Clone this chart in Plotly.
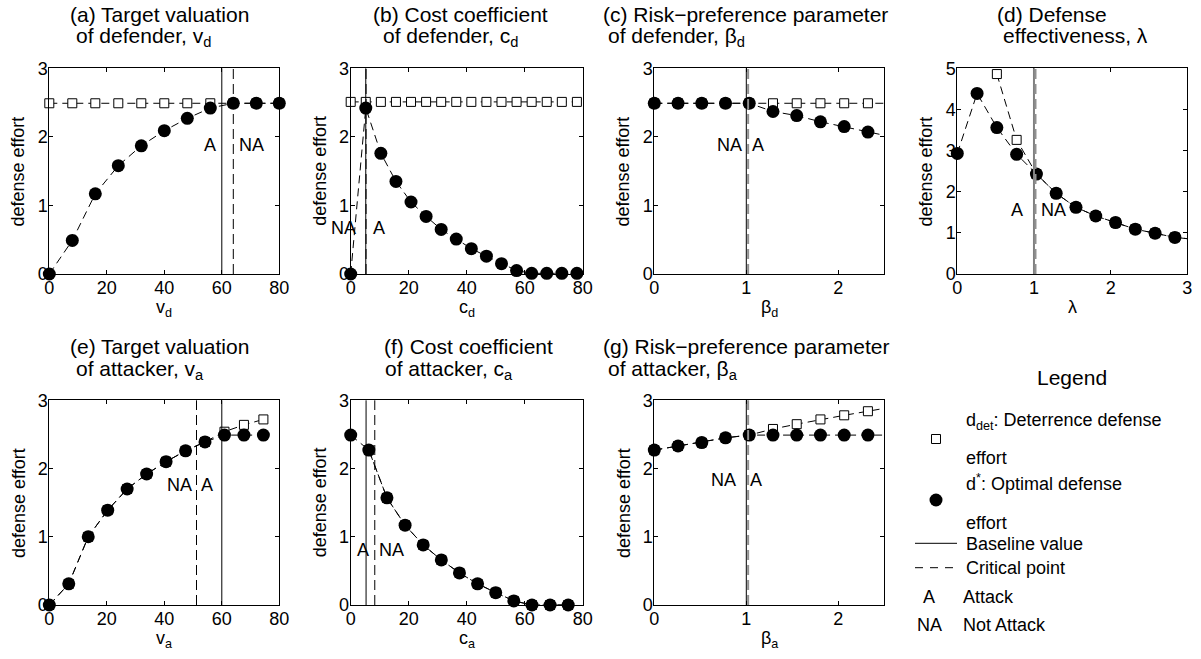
import plotly.graph_objects as go

W, H = 1201, 659

# ---------------- data ----------------
# (a) target valuation of defender
VD = [0, 8, 16, 24, 32, 40, 48, 56, 64, 72, 80]
DDET_A = [2.49, 2.49, 2.49, 2.49, 2.49, 2.49, 2.49, 2.49, 2.49, 2.49, 2.49]
DSTAR_A = [0, 0.49, 1.17, 1.58, 1.87, 2.09, 2.27, 2.42, 2.49, 2.49, 2.49]
BASE_A, CRIT_A = 60, 64

# (b) cost coefficient of defender
CD = [0, 5.2, 10.4, 15.6, 20.8, 26, 31.2, 36.4, 41.6, 46.8, 52, 57.2, 62.4, 67.6, 72.8, 78]
DDET_B = [2.51, 2.51, 2.51, 2.51, 2.51, 2.51, 2.51, 2.51, 2.51, 2.51, 2.51, 2.51, 2.51, 2.51, 2.51, 2.51]
DSTAR_B = [0, 2.42, 1.76, 1.35, 1.05, 0.84, 0.65, 0.51, 0.37, 0.26, 0.15, 0.05, 0.01, 0.01, 0.01, 0.01]
BASE_B, CRIT_B = 5.2, 5.3

# (c) risk-preference parameter of defender
BD = [0, 0.258, 0.516, 0.774, 1.032, 1.29, 1.548, 1.806, 2.064, 2.322, 2.58]
DDET_C = [2.49, 2.49, 2.49, 2.49, 2.49, 2.49, 2.49, 2.49, 2.49, 2.49, 2.49]
DSTAR_C = [2.49, 2.49, 2.49, 2.49, 2.49, 2.37, 2.31, 2.22, 2.15, 2.07, 2.0]
BASE_C, CRIT_C = 1.0, 1.02

# (d) defense effectiveness
LAM = [0, 0.258, 0.516, 0.774, 1.032, 1.29, 1.548, 1.806, 2.064, 2.322, 2.58, 2.838, 3.096]
DDET_D = [None, None, 4.86, 3.26, 2.43, 1.96, 1.62, 1.41, 1.25, 1.09, 0.99, 0.89, 0.84]
DSTAR_D = [2.93, 4.39, 3.56, 2.91, 2.43, 1.96, 1.62, 1.41, 1.25, 1.09, 0.99, 0.89, 0.84]
BASE_D, CRIT_D = 1.0, 1.02

# (e) target valuation of attacker
VA = [0, 6.77, 13.54, 20.31, 27.08, 33.85, 40.62, 47.39, 54.16, 60.93, 67.7, 74.47]
DDET_E = [0, 0.31, 1.0, 1.39, 1.70, 1.92, 2.10, 2.26, 2.39, 2.54, 2.64, 2.72]
DSTAR_E = [0, 0.31, 1.0, 1.39, 1.70, 1.92, 2.10, 2.26, 2.39, 2.49, 2.49, 2.49]
BASE_E, CRIT_E = 60, 51.2

# (f) cost coefficient of attacker
CA = [0, 6.25, 12.5, 18.75, 25, 31.25, 37.5, 43.75, 50, 56.25, 62.5, 68.75, 75]
DDET_F = [None, 2.27, 1.57, 1.17, 0.88, 0.66, 0.47, 0.31, 0.18, 0.06, 0, 0, 0]
DSTAR_F = [2.49, 2.27, 1.57, 1.17, 0.88, 0.66, 0.47, 0.31, 0.18, 0.06, 0, 0, 0]
BASE_F, CRIT_F = 5.3, 8.3

# (g) risk-preference parameter of attacker
BA = [0, 0.258, 0.516, 0.774, 1.032, 1.29, 1.548, 1.806, 2.064, 2.322, 2.58]
DDET_G = [2.27, 2.33, 2.38, 2.45, 2.49, 2.58, 2.65, 2.72, 2.78, 2.84, 2.90]
DSTAR_G = [2.27, 2.33, 2.38, 2.45, 2.49, 2.49, 2.49, 2.49, 2.49, 2.49, 2.49]
BASE_G, CRIT_G = 1.0, 1.02

TITLES = [
    ("(a) Target valuation", "of defender, v<sub>d</sub>"),
    ("(b) Cost coefficient", "of defender, c<sub>d</sub>"),
    ("(c) Risk\u2212preference parameter", "of defender, \u03b2<sub>d</sub>"),
    ("(d) Defense", "effectiveness, \u03bb"),
    ("(e) Target valuation", "of attacker, v<sub>a</sub>"),
    ("(f) Cost coefficient", "of attacker, c<sub>a</sub>"),
    ("(g) Risk\u2212preference parameter", "of attacker, \u03b2<sub>a</sub>"),
]
XLABELS = ["v<sub>d</sub>", "c<sub>d</sub>", "\u03b2<sub>d</sub>", "\u03bb",
           "v<sub>a</sub>", "c<sub>a</sub>", "\u03b2<sub>a</sub>"]
YLABEL = "defense effort"
REGION_LABELS = [
    [("A", 55.9, 1.88), ("NA", 70.4, 1.88)],
    [("NA", 0, 0.67), ("A", 9.9, 0.67)],
    [("NA", 0.82, 1.88), ("A", 1.13, 1.88)],
    [("A", 0.78, 1.56), ("NA", 1.26, 1.56)],
    [("NA", 45.4, 1.76), ("A", 55.0, 1.76)],
    [("A", 4.4, 0.81), ("NA", 14.1, 0.81)],
    [("NA", 0.75, 1.83), ("A", 1.11, 1.83)],
]
LEGEND_ITEMS = ["d<sub>det</sub>: Deterrence defense", "effort",
                "d<sup>*</sup>: Optimal defense", "effort",
                "Baseline value", "Critical point", "Attack", "Not Attack"]

# ---------------- layout constants (pixels) ----------------
FONT = "Liberation Sans, Arial, Helvetica, sans-serif"
BOXES = [  # left, right, top, bottom
    (49.3, 279.3, 68.3, 274), (350.7, 582.7, 68.3, 274),
    (654.3, 884.3, 68.3, 274), (957.3, 1187.3, 68.3, 274),
    (49.3, 279.3, 400.3, 605), (350.7, 582.7, 400.3, 605),
    (654.3, 884.3, 400.3, 605),
]
TITLE_X = [(67.5, 73.5), (371, 381), (601, 606), (995, 1000.5),
           (67.5, 73.5), (382, 382.5), (601, 606)]
XR = [[0, 80], [0, 80], [0, 2.5], [0, 3], [0, 80], [0, 80], [0, 2.5]]
XT = [[0, 20, 40, 60, 80]] * 2 + [[0, 1, 2], [0, 1, 2, 3]] + [[0, 20, 40, 60, 80]] * 2 + [[0, 1, 2]]
YR = [[0, 3]] * 3 + [[0, 5]] + [[0, 3]] * 3
YT = [[0, 1, 2, 3]] * 3 + [[0, 1, 2, 3, 4, 5]] + [[0, 1, 2, 3]] * 3
VGREY = [False, False, True, True, False, False, True]   # grey critical line
BGREY = [False, False, False, True, False, False, False]  # grey baseline
LABEL_SHIFT = [[0, 0], [-7, 0], [0, 0], [0, 0], [0, 0], [0, 0], [0, 0]]

XS = [VD, CD, BD, LAM, VA, CA, BA]
DETS = [DDET_A, DDET_B, DDET_C, DDET_D, DDET_E, DDET_F, DDET_G]
OPTS = [DSTAR_A, DSTAR_B, DSTAR_C, DSTAR_D, DSTAR_E, DSTAR_F, DSTAR_G]
BASES = [BASE_A, BASE_B, BASE_C, BASE_D, BASE_E, BASE_F, BASE_G]
CRITS = [CRIT_A, CRIT_B, CRIT_C, CRIT_D, CRIT_E, CRIT_F, CRIT_G]


def fx(p):
    return p / W


def fy(p):
    return 1 - p / H


fig = go.Figure()
annotations = []
shapes = []
LINE_DASH = "8px,5px"

for i in range(7):
    n = i + 1
    xa = "x" if n == 1 else f"x{n}"
    ya = "y" if n == 1 else f"y{n}"
    l, r, t, b = BOXES[i]
    xs = XS[i]
    lo, hi = XR[i]
    for ys, marker in ((DETS[i], dict(symbol="square", size=9, color="white",
                                      line=dict(color="black", width=1))),
                       (OPTS[i], dict(symbol="circle", size=13, color="black",
                                      line=dict(width=0)))):
        fig.add_trace(go.Scatter(x=xs, y=ys, mode="lines", xaxis=xa, yaxis=ya,
                                 line=dict(color="black", width=1, dash=LINE_DASH),
                                 showlegend=False, hoverinfo="skip"))
        mx = [x for x, y in zip(xs, ys) if lo <= x <= hi]
        my = [y for x, y in zip(xs, ys) if lo <= x <= hi]
        fig.add_trace(go.Scatter(x=mx, y=my, mode="markers", xaxis=xa, yaxis=ya,
                                 marker=marker, cliponaxis=False,
                                 showlegend=False, hoverinfo="skip"))
    axx = dict(domain=[fx(l), fx(r)], range=XR[i], tickvals=XT[i], anchor=ya,
               ticks="inside", ticklen=4, tickcolor="black", showline=True,
               linecolor="black", linewidth=1, mirror="ticks", showgrid=False,
               zeroline=False, tickfont=dict(size=18, color="black"),
               ticklabelstandoff=-3, automargin=False)
    axy = dict(domain=[fy(b), fy(t)], range=YR[i], tickvals=YT[i], anchor=xa,
               ticks="inside", ticklen=4, tickcolor="black", showline=True,
               linecolor="black", linewidth=1, mirror="ticks", showgrid=False,
               zeroline=False, tickfont=dict(size=18, color="black"),
               ticklabelstandoff=-3, automargin=False)
    fig.layout["xaxis" if n == 1 else f"xaxis{n}"] = axx
    fig.layout["yaxis" if n == 1 else f"yaxis{n}"] = axy

    # baseline & critical lines
    shapes.append(dict(type="line", xref=xa, yref=f"{ya} domain", x0=BASES[i], x1=BASES[i],
                       y0=0, y1=1, line=dict(color="#808080" if BGREY[i] else "black",
                                             width=2 if BGREY[i] else 1)))
    shapes.append(dict(type="line", xref=xa, yref=f"{ya} domain", x0=CRITS[i], x1=CRITS[i],
                       y0=0, y1=1, line=dict(color="#909090" if VGREY[i] else "black",
                                             width=2 if VGREY[i] else 1, dash="10px,5px")))
    # region labels
    for (txt, tx, ty), sh in zip(REGION_LABELS[i], LABEL_SHIFT[i]):
        annotations.append(dict(text=txt, x=tx, y=ty, xref=xa, yref=ya, showarrow=False,
                                font=dict(size=18), xanchor="center", yanchor="middle",
                                xshift=sh))
    # titles (two lines)
    dy = t - 68.3
    annotations.append(dict(text=TITLES[i][0], x=fx(TITLE_X[i][0]), y=fy(14.3 + dy),
                            xref="paper", yref="paper", showarrow=False, xanchor="left",
                            yanchor="middle", font=dict(size=21)))
    annotations.append(dict(text=TITLES[i][1], x=fx(TITLE_X[i][1]), y=fy(22.5 + dy),
                            xref="paper", yref="paper", showarrow=False, xanchor="left",
                            yanchor="top", font=dict(size=21)))
    # axis titles
    annotations.append(dict(text=XLABELS[i], x=fx((l + r) / 2), y=fy(b + 21),
                            xref="paper", yref="paper", showarrow=False, xanchor="center",
                            yanchor="top", font=dict(size=18)))
    annotations.append(dict(text=YLABEL, x=fx(l - 31), y=fy((t + b) / 2), textangle=-90,
                            xref="paper", yref="paper", showarrow=False, xanchor="center",
                            yanchor="middle", font=dict(size=18)))

# ---------------- legend panel ----------------
annotations.append(dict(text="Legend", x=fx(1072), y=fy(377), xref="paper", yref="paper",
                        showarrow=False, xanchor="center", yanchor="middle", font=dict(size=21)))
leg_y = [421, 458, 482, 523, 544, 568, 597, 625]
for txt, yy in zip(LEGEND_ITEMS, leg_y):
    xx = 960.7 if txt in ("Attack", "Not Attack") else 964
    annotations.append(dict(text=txt, x=fx(xx), y=fy(yy), xref="paper", yref="paper",
                            showarrow=False, xanchor="left", yanchor="middle",
                            font=dict(size=18)))
for txt, yy in (("A", 597), ("NA", 625)):
    annotations.append(dict(text=txt, x=fx(929.3), y=fy(yy), xref="paper", yref="paper",
                            showarrow=False, xanchor="center", yanchor="middle",
                            font=dict(size=18)))
shapes.append(dict(type="rect", xref="paper", yref="paper", x0=fx(931.5), x1=fx(940.5),
                   y0=fy(443.5), y1=fy(434.5), fillcolor="white",
                   line=dict(color="black", width=1)))
shapes.append(dict(type="circle", xref="paper", yref="paper", x0=fx(929.5), x1=fx(942.5),
                   y0=fy(506.5), y1=fy(493.5), fillcolor="black", line=dict(width=0)))
shapes.append(dict(type="line", xref="paper", yref="paper", x0=fx(915), x1=fx(957),
                   y0=fy(543.3), y1=fy(543.3), line=dict(color="black", width=1)))
shapes.append(dict(type="line", xref="paper", yref="paper", x0=fx(915), x1=fx(957),
                   y0=fy(567.7), y1=fy(567.7), line=dict(color="black", width=1, dash="8px,7px")))

fig.update_layout(width=W, height=H,
                  margin=dict(l=0, r=0, t=0, b=0, pad=0, autoexpand=False),
                  paper_bgcolor="white", plot_bgcolor="white",
                  font=dict(family=FONT, color="black", size=18),
                  annotations=annotations, shapes=shapes, showlegend=False)

fig.write_html("out.html",
               post_script="document.body.style.margin='0';"
                           "document.body.style.overflow='hidden';")
